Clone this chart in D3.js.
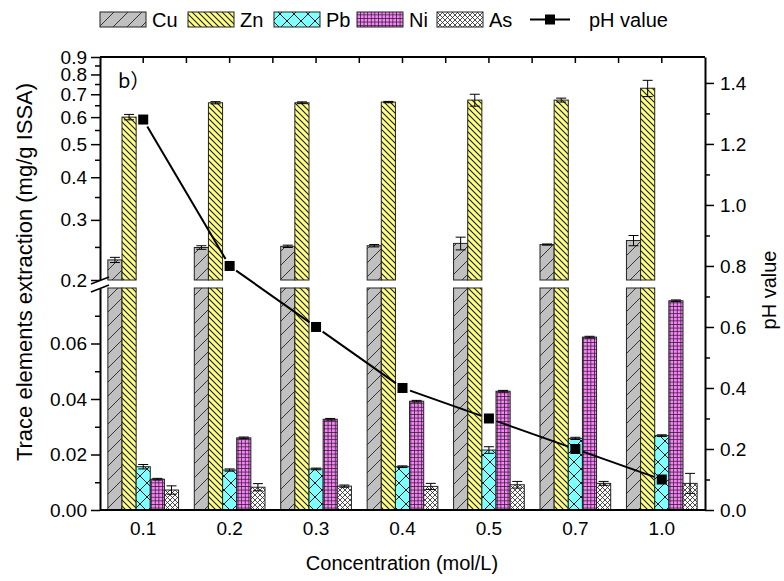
<!DOCTYPE html>
<html>
<head>
<meta charset="utf-8">
<script src="https://cdn.jsdelivr.net/npm/d3@7/dist/d3.min.js"></script>
<style>
  body { margin: 0; background: #fff; }
  text { font-family: "Liberation Sans", Arial, sans-serif; fill: #000; }
</style>
</head>
<body>
<svg id="chart" width="784" height="581"></svg>
<script>
// Acid concentrations (mol/L)
const concentrations = ["0.1", "0.2", "0.3", "0.4", "0.5", "0.7", "1.0"];

// Extracted amounts (mg/g ISSA) and standard deviations
const cuValues = [0.229, 0.249, 0.251, 0.252, 0.256, 0.254, 0.261];
const cuErrors = [0.004, 0.003, 0.002, 0.002, 0.011, 0.001, 0.009];
const znValues = [0.600, 0.661, 0.661, 0.664, 0.673, 0.673, 0.729];
const znErrors = [0.011, 0.005, 0.004, 0.003, 0.027, 0.009, 0.040];
const pbValues = [0.0156, 0.0144, 0.0148, 0.0156, 0.0216, 0.0258, 0.0268];
const pbErrors = [0.0008, 0.0004, 0.0003, 0.0003, 0.0012, 0.0004, 0.0003];
const niValues = [0.0111, 0.0260, 0.0327, 0.0392, 0.0428, 0.0623, 0.0754];
const niErrors = [0.0003, 0.0003, 0.0003, 0.0003, 0.0003, 0.0003, 0.0003];
const asValues = [0.0072, 0.0082, 0.0086, 0.0085, 0.0091, 0.0096, 0.0096];
const asErrors = [0.0015, 0.0013, 0.0004, 0.0011, 0.0012, 0.0007, 0.0036];

// Leachate pH
const phValues = [1.28, 0.8, 0.6, 0.4, 0.3, 0.2, 0.1];

// Axis ticks
const lowTicks = [0, 0.02, 0.04, 0.06];
const lowMinorTicks = [0.01, 0.03, 0.05, 0.07];
const highTicks = [0.2, 0.3, 0.4, 0.5, 0.6, 0.7, 0.8, 0.9];
const highMinorTicks = [0.25, 0.35, 0.45, 0.55, 0.65, 0.75, 0.85];
const phTicks = [0, 0.2, 0.4, 0.6, 0.8, 1.0, 1.2, 1.4];
const phMinorTicks = [0.1, 0.3, 0.5, 0.7, 0.9, 1.1, 1.3];

const elements = ["Cu", "Zn", "Pb", "Ni", "As"];
const seriesValues = [cuValues, znValues, pbValues, niValues, asValues];
const seriesErrors = [cuErrors, znErrors, pbErrors, niErrors, asErrors];

const svg = d3.select("#chart");
const plotLeft = 100, plotRight = 705, plotTop = 57, plotBottom = 510;
const lowTop = 288, highBottom = 280;

const x = d3.scaleBand().domain(concentrations).range([plotLeft, plotRight])
  .paddingInner(0.182).paddingOuter(0.091);
const xSub = d3.scaleBand().domain(elements).range([0, x.bandwidth()]);
const yLow = d3.scaleLinear().domain([0, 0.08]).range([plotBottom, lowTop]);
const yHigh = d3.scaleLog().domain([0.2, 0.9]).range([highBottom, plotTop]);
const yPH = d3.scaleLinear().domain([0, 1.485]).range([plotBottom, plotTop]);

// ---- fill patterns ----
const defs = svg.append("defs");
function pattern(id, size, bg, d, sw, stroke) {
  const p = defs.append("pattern").attr("id", id)
    .attr("patternUnits", "userSpaceOnUse").attr("width", size).attr("height", size);
  p.append("rect").attr("width", size).attr("height", size).attr("fill", bg);
  p.append("path").attr("d", d).attr("stroke", stroke || "#1a1a1a")
    .attr("stroke-width", sw).attr("fill", "none");
}
pattern("pat-Cu", 14, "#c0c0c0", "M0,14L14,0M-3,3L3,-3M11,17L17,11", 1, "#333");
pattern("pat-Zn", 6, "#ffff80", "M0,0L6,6M-3,3L3,9M3,-3L9,3", 1.1);
pattern("pat-Pb", 14, "#80ffff", "M0,0L14,14M0,14L14,0", 1);
pattern("pat-Ni", 3.6, "#ff80ff", "M0,0.4H3.6M0.4,0V3.6", 0.8, "#222");
pattern("pat-As", 5, "#ffffff", "M0,0L5,5M0,5L5,0", 0.8, "#222");

// ---- bars (split across the broken axis) ----
const barG = svg.append("g");
const barData = [];
concentrations.forEach((c, i) => {
  elements.forEach((el, j) => {
    barData.push({ c, el, v: seriesValues[j][i], e: seriesErrors[j][i] });
  });
});
const bx = d => x(d.c) + xSub(d.el);
const bw = xSub.bandwidth();

barData.forEach(d => {
  const fill = `url(#pat-${d.el})`;
  if (d.v <= 0.08) {
    barG.append("rect").attr("x", bx(d)).attr("y", yLow(d.v))
      .attr("width", bw).attr("height", yLow(0) - yLow(d.v))
      .attr("fill", fill).attr("stroke", "#222").attr("stroke-width", 1);
  } else {
    barG.append("rect").attr("x", bx(d)).attr("y", yLow(0.08))
      .attr("width", bw).attr("height", yLow(0) - yLow(0.08))
      .attr("fill", fill).attr("stroke", "#222").attr("stroke-width", 1);
    barG.append("rect").attr("x", bx(d)).attr("y", yHigh(d.v))
      .attr("width", bw).attr("height", yHigh(0.2) - yHigh(d.v))
      .attr("fill", fill).attr("stroke", "#222").attr("stroke-width", 1);
  }
});

// error bars
const errG = svg.append("g").attr("stroke", "#000").attr("stroke-width", 1);
barData.forEach(d => {
  const y = d.v > 0.08 ? yHigh : yLow;
  const cx = bx(d) + bw / 2;
  const y1 = y(d.v + d.e), y2 = y(d.v - d.e);
  errG.append("line").attr("x1", cx).attr("x2", cx).attr("y1", y1).attr("y2", y2);
  [y1, y2].forEach(yy => errG.append("line")
    .attr("x1", cx - 5).attr("x2", cx + 5).attr("y1", yy).attr("y2", yy));
});

// ---- axes ----
function styleAxis(g) {
  g.selectAll("path.domain").attr("stroke", "#000").attr("stroke-width", 2);
  g.selectAll(".tick line").attr("stroke", "#000").attr("stroke-width", 1.5);
  g.selectAll(".tick text").style("font-size", "19px");
}

// lower left segment
svg.append("g").attr("transform", `translate(${plotLeft},0)`)
  .call(d3.axisLeft(yLow).tickValues(lowTicks).tickFormat(d3.format(".2f"))
    .tickSize(9).tickSizeOuter(0).tickPadding(4))
  .call(styleAxis);
svg.append("g").attr("transform", `translate(${plotLeft},0)`)
  .call(d3.axisLeft(yLow).tickValues(lowMinorTicks).tickFormat("").tickSize(5).tickSizeOuter(0))
  .call(styleAxis).call(g => g.select(".domain").remove());

// upper left segment (log)
svg.append("g").attr("transform", `translate(${plotLeft},0)`)
  .call(d3.axisLeft(yHigh).tickValues(highTicks).tickFormat(d3.format(".1f"))
    .tickSize(9).tickSizeOuter(0).tickPadding(4))
  .call(styleAxis);
svg.append("g").attr("transform", `translate(${plotLeft},0)`)
  .call(d3.axisLeft(yHigh).tickValues(highMinorTicks).tickFormat("").tickSize(5).tickSizeOuter(0))
  .call(styleAxis).call(g => g.select(".domain").remove());

// break marks on the left axis
const breakG = svg.append("g").attr("stroke", "#000").attr("stroke-width", 1.5);
[highBottom, lowTop].forEach(yy => breakG.append("line")
  .attr("x1", plotLeft - 9).attr("y1", yy + 4).attr("x2", plotLeft + 9).attr("y2", yy - 3));

// right pH axis
svg.append("g").attr("transform", `translate(${plotRight},0)`)
  .call(d3.axisRight(yPH).tickValues(phTicks).tickFormat(d3.format(".1f"))
    .tickSize(9).tickSizeOuter(0).tickPadding(6))
  .call(styleAxis);
svg.append("g").attr("transform", `translate(${plotRight},0)`)
  .call(d3.axisRight(yPH).tickValues(phMinorTicks).tickFormat("").tickSize(5).tickSizeOuter(0))
  .call(styleAxis).call(g => g.select(".domain").remove());

// bottom axis
svg.append("g").attr("transform", `translate(0,${plotBottom})`)
  .call(d3.axisBottom(x).tickSize(0).tickSizeOuter(0).tickPadding(12))
  .call(styleAxis)
  .call(g => g.select(".domain").attr("d", `M${plotLeft},0H${plotRight}`));

// top frame with inward ticks at band centres and boundaries
const topG = svg.append("g").attr("stroke", "#000");
topG.append("line").attr("x1", plotLeft).attr("x2", plotRight)
  .attr("y1", plotTop).attr("y2", plotTop).attr("stroke-width", 2);
concentrations.forEach(c => {
  [x(c) - x.step() * x.paddingInner() / 2, x(c) + x.bandwidth() / 2].forEach(xx => {
    if (xx > plotLeft + 1) topG.append("line").attr("x1", xx).attr("x2", xx)
      .attr("y1", plotTop).attr("y2", plotTop + 6).attr("stroke-width", 1.5);
  });
});

// ---- pH line ----
const pts = concentrations.map((c, i) => [x(c) + x.bandwidth() / 2, yPH(phValues[i])]);
const phG = svg.append("g");
for (let i = 0; i < pts.length - 1; i++) {
  const [x1, y1] = pts[i], [x2, y2] = pts[i + 1];
  const len = Math.hypot(x2 - x1, y2 - y1), gap = 8;
  const ux = (x2 - x1) / len, uy = (y2 - y1) / len;
  phG.append("line")
    .attr("x1", x1 + ux * gap).attr("y1", y1 + uy * gap)
    .attr("x2", x2 - ux * gap).attr("y2", y2 - uy * gap)
    .attr("stroke", "#000").attr("stroke-width", 2);
}
phG.selectAll("rect").data(pts).join("rect")
  .attr("x", d => d[0] - 5).attr("y", d => d[1] - 5)
  .attr("width", 10).attr("height", 10).attr("fill", "#000");

// ---- labels ----
svg.append("text").attr("x", 118).attr("y", 88).style("font-size", "20px")
  .style("font-family", "'Noto Sans CJK SC', 'Liberation Sans', sans-serif").text("b）");

svg.append("text").attr("transform", `translate(32,272) rotate(-90)`)
  .attr("text-anchor", "middle").style("font-size", "22px")
  .text("Trace elements extraction (mg/g ISSA)");
svg.append("text").attr("transform", `translate(776,290) rotate(-90)`)
  .attr("text-anchor", "middle").style("font-size", "20px").text("pH value");
svg.append("text").attr("x", 402).attr("y", 570)
  .attr("text-anchor", "middle").style("font-size", "20px").text("Concentration (mol/L)");

// ---- legend ----
const legendX = [100, 188, 274, 357, 437];
const legend = svg.append("g");
elements.forEach((el, j) => {
  legend.append("rect").attr("x", legendX[j]).attr("y", 12).attr("width", 46).attr("height", 15)
    .attr("fill", `url(#pat-${el})`).attr("stroke", "#222").attr("stroke-width", 1);
  legend.append("text").attr("x", legendX[j] + 52).attr("y", 27)
    .style("font-size", "20px").text(el);
});
legend.append("line").attr("x1", 530).attr("x2", 570).attr("y1", 19.5).attr("y2", 19.5)
  .attr("stroke", "#000").attr("stroke-width", 2);
legend.append("rect").attr("x", 545).attr("y", 14.5).attr("width", 10).attr("height", 10)
  .attr("fill", "#000");
legend.append("text").attr("x", 589).attr("y", 27).style("font-size", "20px").text("pH value");
</script>
</body>
</html>
